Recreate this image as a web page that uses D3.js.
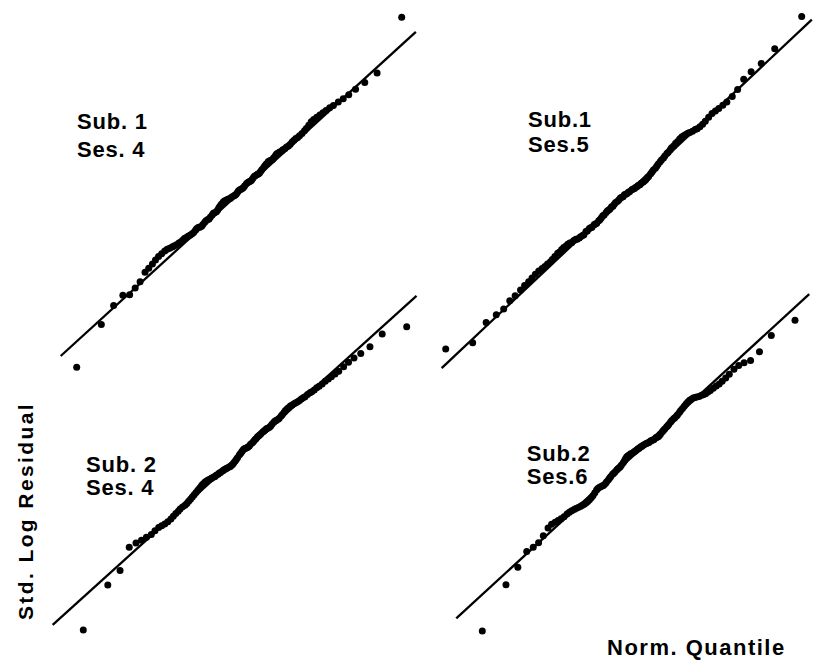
<!DOCTYPE html>
<html>
<head>
<meta charset="utf-8">
<script src="https://cdn.jsdelivr.net/npm/d3@7/dist/d3.min.js"></script>
<style>
    body { margin: 0; background: #fff; }
    svg text { font-family: "Liberation Sans", Arial, Helvetica, sans-serif; font-weight: bold; fill: #000; }
</style>
</head>
<body>
<div id="chart-area"></div>
<script>

// normal quantiles (x) - same for all four panels
let quantiles = [
    -2.64, -2.24, -2.04, -1.89, -1.78, -1.69, -1.61, -1.53, -1.47, -1.41,
    -1.36, -1.31, -1.26, -1.21, -1.17, -1.13, -1.09, -1.06, -1.02, -0.98,
    -0.95, -0.92, -0.89, -0.86, -0.83, -0.80, -0.77, -0.74, -0.71, -0.69,
    -0.66, -0.64, -0.61, -0.59, -0.56, -0.54, -0.51, -0.49, -0.47, -0.44,
    -0.42, -0.40, -0.37, -0.35, -0.33, -0.31, -0.29, -0.26, -0.24, -0.22,
    -0.20, -0.18, -0.16, -0.14, -0.12, -0.09, -0.07, -0.05, -0.03, -0.01,
    0.01, 0.03, 0.05, 0.07, 0.09, 0.12, 0.14, 0.16, 0.18, 0.20,
    0.22, 0.24, 0.26, 0.29, 0.31, 0.33, 0.35, 0.37, 0.40, 0.42,
    0.44, 0.47, 0.49, 0.51, 0.54, 0.56, 0.59, 0.61, 0.64, 0.66,
    0.69, 0.71, 0.74, 0.77, 0.80, 0.83, 0.86, 0.89, 0.92, 0.95,
    0.98, 1.02, 1.06, 1.09, 1.13, 1.17, 1.21, 1.26, 1.31, 1.36,
    1.41, 1.47, 1.53, 1.61, 1.69, 1.78, 1.89, 2.04, 2.24, 2.64
];

// sorted std. log residuals (y), one list per subject / session
let sub1Ses4 = [
    -3.10, -2.34, -2.00, -1.82, -1.81, -1.69, -1.58, -1.41, -1.34, -1.26,
    -1.19, -1.13, -1.08, -1.03, -1.00, -0.98, -0.96, -0.94, -0.92, -0.89,
    -0.87, -0.84, -0.81, -0.79, -0.77, -0.75, -0.73, -0.70, -0.66, -0.63,
    -0.61, -0.61, -0.59, -0.56, -0.52, -0.49, -0.47, -0.46, -0.43, -0.39,
    -0.36, -0.35, -0.33, -0.30, -0.26, -0.23, -0.20, -0.16, -0.14, -0.13,
    -0.12, -0.11, -0.10, -0.09, -0.07, -0.05, -0.04, -0.02, 0.01, 0.04,
    0.06, 0.07, 0.08, 0.10, 0.13, 0.17, 0.19, 0.20, 0.21, 0.23,
    0.26, 0.29, 0.31, 0.33, 0.34, 0.36, 0.39, 0.42, 0.46, 0.49,
    0.52, 0.56, 0.57, 0.58, 0.60, 0.63, 0.67, 0.70, 0.72, 0.73,
    0.75, 0.77, 0.79, 0.82, 0.84, 0.87, 0.91, 0.94, 0.97, 0.99,
    1.02, 1.06, 1.11, 1.15, 1.21, 1.27, 1.31, 1.35, 1.39, 1.43,
    1.47, 1.52, 1.56, 1.62, 1.68, 1.75, 1.85, 1.97, 2.14, 3.13
];

let sub1Ses5 = [
    -2.40, -2.30, -1.98, -1.86, -1.77, -1.64, -1.56, -1.47, -1.40, -1.34,
    -1.28, -1.22, -1.17, -1.13, -1.10, -1.06, -1.03, -0.99, -0.94, -0.89,
    -0.87, -0.83, -0.80, -0.78, -0.75, -0.73, -0.72, -0.69, -0.67, -0.67,
    -0.65, -0.63, -0.61, -0.60, -0.55, -0.54, -0.50, -0.49, -0.48, -0.44,
    -0.43, -0.42, -0.38, -0.36, -0.33, -0.30, -0.29, -0.25, -0.22, -0.21,
    -0.19, -0.16, -0.15, -0.12, -0.09, -0.07, -0.05, -0.02, -0.01, 0.00,
    0.03, 0.04, 0.05, 0.07, 0.08, 0.11, 0.12, 0.13, 0.15, 0.16,
    0.18, 0.19, 0.21, 0.23, 0.25, 0.27, 0.30, 0.32, 0.36, 0.39,
    0.42, 0.45, 0.48, 0.51, 0.55, 0.58, 0.61, 0.64, 0.68, 0.70,
    0.74, 0.77, 0.80, 0.84, 0.87, 0.91, 0.94, 0.96, 0.98, 1.00,
    1.01, 1.03, 1.06, 1.07, 1.10, 1.14, 1.19, 1.25, 1.31, 1.35,
    1.39, 1.44, 1.49, 1.58, 1.69, 1.85, 1.97, 2.10, 2.33, 2.84
];

let sub2Ses4 = [
    -3.23, -2.42, -2.16, -1.74, -1.66, -1.61, -1.56, -1.51, -1.44, -1.38,
    -1.35, -1.32, -1.28, -1.23, -1.18, -1.13, -1.09, -1.05, -1.01, -0.98,
    -0.95, -0.91, -0.87, -0.83, -0.79, -0.75, -0.71, -0.67, -0.63, -0.60,
    -0.57, -0.55, -0.53, -0.52, -0.50, -0.49, -0.47, -0.46, -0.44, -0.42,
    -0.40, -0.39, -0.36, -0.35, -0.33, -0.32, -0.31, -0.29, -0.28, -0.26,
    -0.24, -0.21, -0.18, -0.15, -0.12, -0.07, -0.04, -0.01, 0.02, 0.04,
    0.05, 0.06, 0.07, 0.09, 0.12, 0.15, 0.17, 0.20, 0.22, 0.25,
    0.27, 0.29, 0.31, 0.34, 0.36, 0.38, 0.40, 0.41, 0.43, 0.45,
    0.48, 0.52, 0.54, 0.55, 0.57, 0.59, 0.63, 0.66, 0.70, 0.73,
    0.76, 0.78, 0.81, 0.83, 0.85, 0.87, 0.89, 0.91, 0.94, 0.96,
    0.98, 1.02, 1.05, 1.07, 1.10, 1.14, 1.17, 1.21, 1.26, 1.30,
    1.34, 1.39, 1.44, 1.52, 1.60, 1.68, 1.76, 1.88, 2.11, 2.24
];

let sub2Ses6 = [
    -3.31, -2.46, -2.14, -1.85, -1.77, -1.69, -1.56, -1.42, -1.35, -1.31,
    -1.28, -1.25, -1.21, -1.16, -1.13, -1.10, -1.08, -1.06, -1.04, -1.02,
    -1.00, -0.98, -0.96, -0.93, -0.90, -0.86, -0.82, -0.77, -0.72, -0.69,
    -0.67, -0.66, -0.64, -0.63, -0.60, -0.57, -0.53, -0.50, -0.47, -0.43,
    -0.41, -0.39, -0.35, -0.33, -0.31, -0.29, -0.26, -0.22, -0.18, -0.14,
    -0.11, -0.09, -0.08, -0.06, -0.05, -0.03, -0.01, 0.00, 0.02, 0.04,
    0.05, 0.07, 0.08, 0.10, 0.11, 0.13, 0.14, 0.15, 0.16, 0.18,
    0.19, 0.20, 0.21, 0.24, 0.25, 0.26, 0.28, 0.31, 0.35, 0.38,
    0.40, 0.44, 0.46, 0.49, 0.53, 0.56, 0.59, 0.61, 0.64, 0.67,
    0.71, 0.74, 0.78, 0.82, 0.86, 0.90, 0.93, 0.95, 0.97, 0.98,
    0.99, 1.00, 1.02, 1.03, 1.05, 1.08, 1.11, 1.15, 1.19, 1.23,
    1.28, 1.34, 1.41, 1.50, 1.57, 1.62, 1.66, 1.82, 2.12, 2.40
];

let panelTitles = [["Sub. 1", "Ses. 4"], ["Sub.1", "Ses.5"], ["Sub. 2", "Ses. 4"], ["Sub.2", "Ses.6"]];

// extent of the y = x reference line in each panel (quantile units)
let lineRanges = [[-2.90, 2.87], [-2.70, 2.79], [-3.14, 2.80], [-3.08, 2.88]];

let axisTitles = {x: "Norm. Quantile", y: "Std. Log Residual"};


class QQPlot {

    constructor(svg, quantiles, residuals, lineRange, title, box) {
        this.svg = svg;
        this.quantiles = quantiles;
        this.residuals = residuals;
        this.lineRange = lineRange;
        this.title = title;
        this.box = box;

        this.initVis();
    }

    initVis() {
        let vis = this;

        vis.g = vis.svg.append("g").attr("class", "qq-panel");

        // scales: the extreme quantiles sit at the box edges
        vis.x = d3.scaleLinear()
            .domain([-2.64, 2.64])
            .range(vis.box.x);

        vis.y = d3.scaleLinear()
            .domain([-2.64, 2.64])
            .range(vis.box.y);

        // reference line y = x
        let line = d3.line()
            .x(d => vis.x(d))
            .y(d => vis.y(d));

        vis.g.append("path")
            .datum(vis.lineRange)
            .attr("d", line)
            .attr("fill", "none")
            .attr("stroke", "#000")
            .attr("stroke-width", 2.3);

        // points
        vis.displayData = vis.quantiles.map((q, i) => ({q: q, r: vis.residuals[i]}));

        vis.g.selectAll(".dot")
            .data(vis.displayData)
            .enter().append("circle")
            .attr("class", "dot")
            .attr("cx", d => vis.x(d.q))
            .attr("cy", d => vis.y(d.r))
            .attr("r", 3.5)
            .attr("fill", "#000");

        // panel label
        vis.g.selectAll(".panel-label")
            .data(vis.title)
            .enter().append("text")
            .attr("class", "panel-label")
            .attr("x", vis.box.label[0])
            .attr("y", (d, i) => vis.box.label[1 + i])
            .attr("font-size", "22px")
            .attr("letter-spacing", "0.8px")
            .text(d => d);
    }
}


let width = 813;
let height = 660;

let svg = d3.select("#chart-area").append("svg")
    .attr("width", width)
    .attr("height", height)
    .style("display", "block")
    .style("background", "#fff");

// pixel boxes of the four panels
let boxes = [
    {x: [76.7, 401.7], y: [341.4, 44.8], label: [77, 129.3, 156.7]},
    {x: [445.7, 801.7], y: [364.3, 29.1], label: [528, 127.3, 151.7]},
    {x: [83.3, 406.7], y: [597.2, 304.7], label: [86, 472.3, 495]},
    {x: [482.3, 795], y: [594.5, 307.2], label: [526.7, 460.7, 484]}
];

let series = [sub1Ses4, sub1Ses5, sub2Ses4, sub2Ses6];

let plots = series.map((s, i) => new QQPlot(svg, quantiles, s, lineRanges[i], panelTitles[i], boxes[i]));

// axis titles
svg.append("text")
    .attr("class", "axis-title")
    .attr("transform", "translate(33, 511) rotate(-90)")
    .attr("text-anchor", "middle")
    .attr("font-size", "21px")
    .attr("letter-spacing", "2.4px")
    .text(axisTitles.y);

svg.append("text")
    .attr("class", "axis-title")
    .attr("x", 607)
    .attr("y", 655)
    .attr("font-size", "22px")
    .attr("letter-spacing", "1.5px")
    .text(axisTitles.x);

</script>
</body>
</html>
